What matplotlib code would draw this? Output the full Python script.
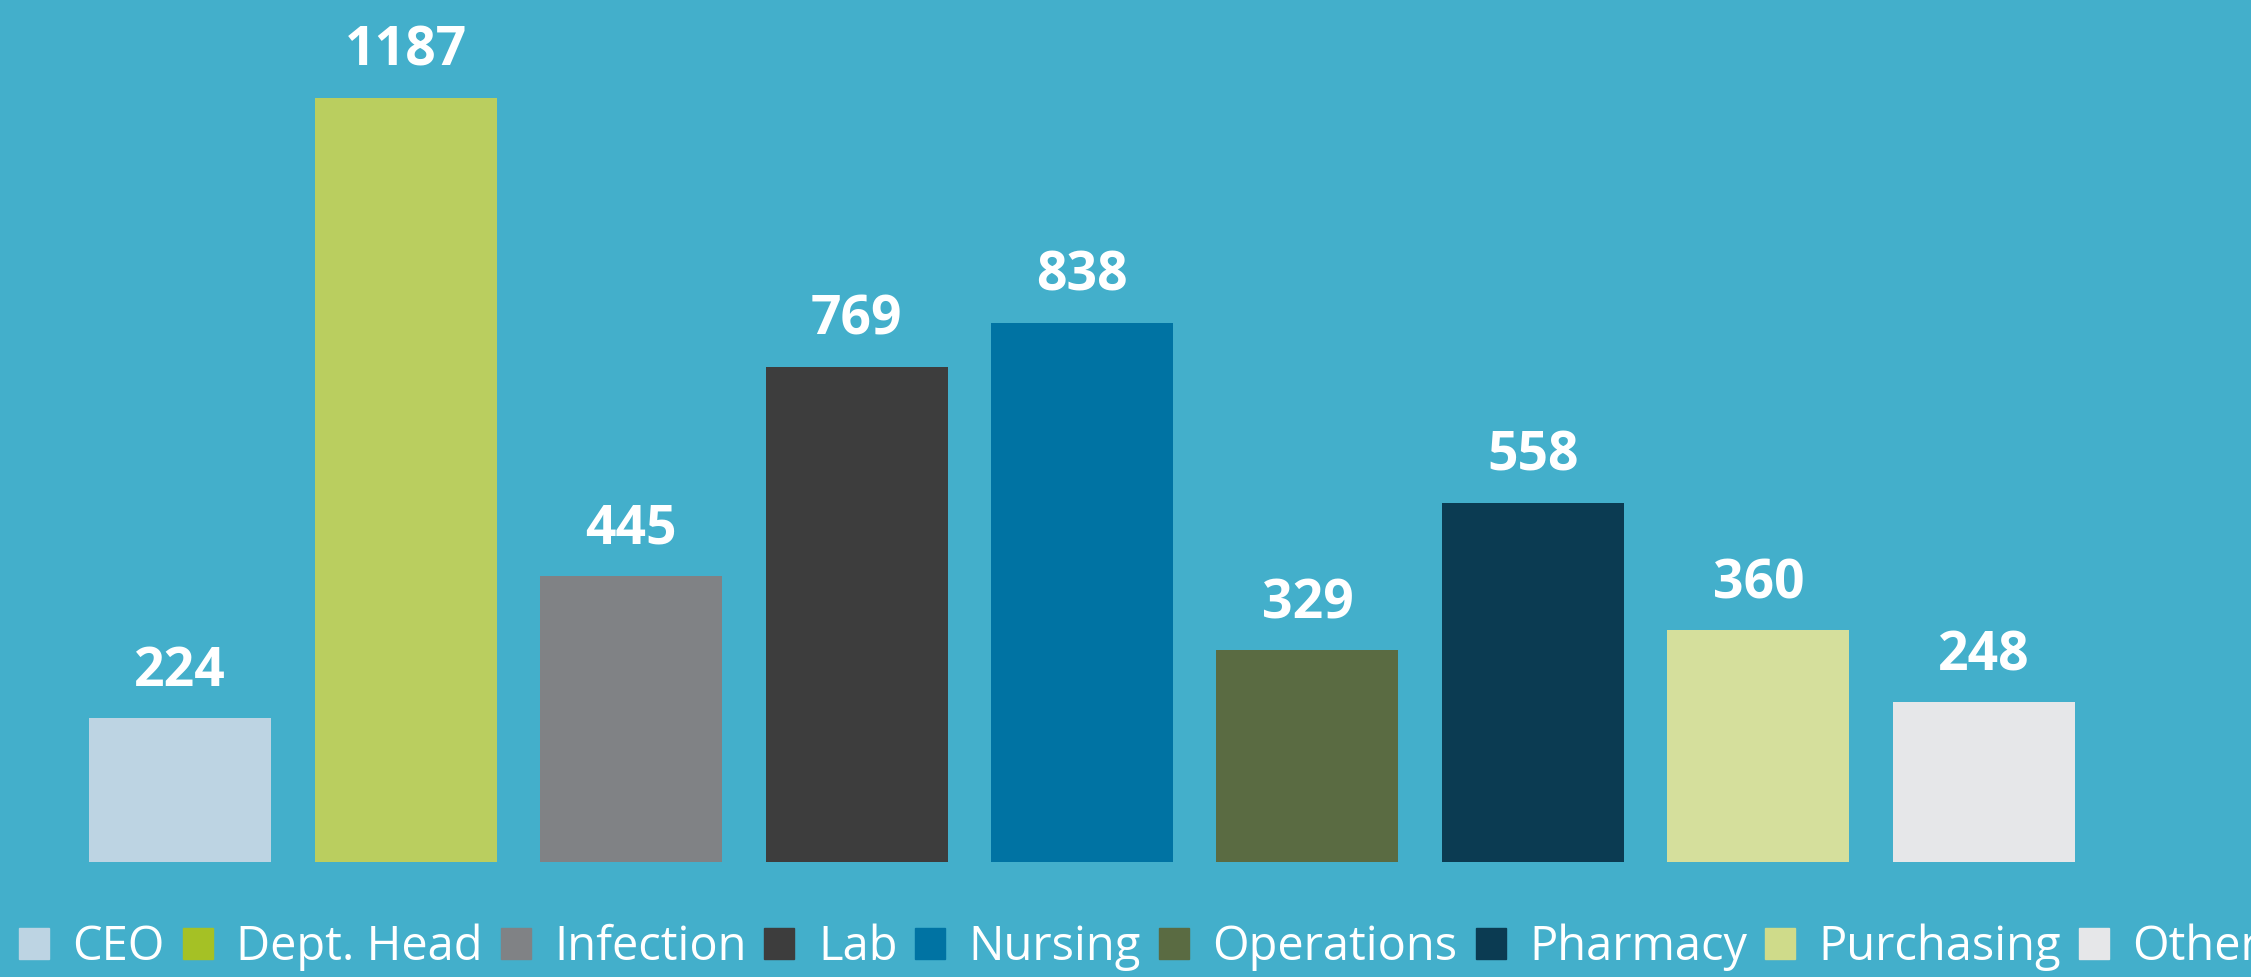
import matplotlib.pyplot as plt
from matplotlib.patches import Patch

# departments and survey counts
departments = ['CEO', 'Dept. Head', 'Infection', 'Lab', 'Nursing',
               'Operations', 'Pharmacy', 'Purchasing', 'Other']
counts = [224, 1187, 445, 769, 838, 329, 558, 360, 248]
bar_colors = ['#BDD4E3', '#BACE5F', '#808285', '#3D3D3D', '#0073A3',
              '#5A6B42', '#0B3B52', '#D5DF9C', '#E6E7E9']
legend_colors = ['#BDD4E3', '#A5C125', '#808285', '#3D3D3D', '#0073A3',
                 '#5A6B42', '#0B3B52', '#CFDB8A', '#E6E7E9']

bg = '#43AFCB'
W, H = 2251, 977
fig = plt.figure(figsize=(W / 100, H / 100), dpi=100, facecolor=bg)
ax = fig.add_axes([67.5 / W, 1 - 862 / H, 2029 / W, 862 / H])
ax.set_facecolor(bg)

x = range(len(counts))
ax.bar(x, counts, width=0.807, color=bar_colors)
for i, v in enumerate(counts):
    ax.text(i, v + 50, str(v), ha='center', va='baseline', color='white',
            fontsize=38.5, fontweight='bold', family='Open Sans')

ax.set_xlim(-0.5, len(counts) - 0.5)
ax.set_ylim(0, 1339)
ax.axis('off')

handles = [Patch(color=c, label=d) for c, d in zip(legend_colors, departments)]
fig.legend(handles=handles, loc='center left', bbox_to_anchor=(19 / W, 1 - 947 / H),
           ncol=9, frameon=False, borderpad=0, borderaxespad=0,
           handlelength=0.64, handleheight=0.64, handletextpad=0.5,
           columnspacing=0.38, labelcolor='white',
           prop={'family': 'Open Sans', 'size': 33.8})

fig.savefig('out.png', dpi=100, facecolor=bg)
